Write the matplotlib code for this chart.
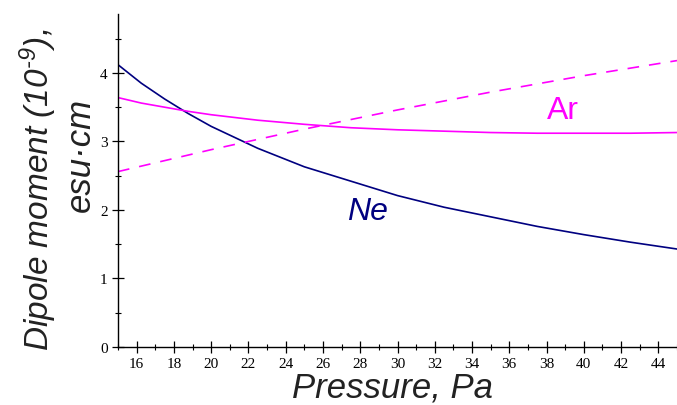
import matplotlib
matplotlib.use("Agg")
import matplotlib.pyplot as plt
from matplotlib.ticker import MultipleLocator

plt.rcParams['mathtext.fontset'] = 'custom'
plt.rcParams['mathtext.rm'] = 'Liberation Sans:italic'
plt.rcParams['mathtext.it'] = 'Liberation Sans:italic'
plt.rcParams['mathtext.default'] = 'it'

# Data
pressure = [15, 16.25, 17.5, 18.75, 20, 22.5, 25, 27.5, 30, 32.5, 35, 37.5, 40, 42.5, 45]
ne_moment = [4.12, 3.85, 3.62, 3.41, 3.22, 2.90, 2.63, 2.42, 2.21, 2.04, 1.90, 1.76, 1.64, 1.53, 1.43]
ar_moment = [3.64, 3.56, 3.50, 3.44, 3.39, 3.31, 3.25, 3.20, 3.17, 3.15, 3.13, 3.12, 3.12, 3.12, 3.13]
ar_dashed = [2.56, 2.64, 2.72, 2.80, 2.88, 3.03, 3.18, 3.32, 3.46, 3.59, 3.72, 3.84, 3.96, 4.07, 4.18]

xticks = list(range(16, 45, 2))
yticks = [0, 1, 2, 3, 4]

NAVY = '#000080'
MAG = '#ff00ff'

fig = plt.figure(figsize=(6.77, 4.06), dpi=100)
ax = fig.add_axes([118/677, 1-348/406, 1-118/677, (348-15)/406])

ax.plot(pressure, ne_moment, color=NAVY, lw=1.2)
ax.plot(pressure, ar_moment, color=MAG, lw=1.2)
ax.plot(pressure, ar_dashed, color=MAG, lw=1.2, dashes=(7, 6))

ax.set_xlim(15, 45)
ax.set_ylim(0, 4.86)
ax.set_xticks(xticks)
ax.set_yticks(yticks)
ax.xaxis.set_minor_locator(MultipleLocator(1))
ax.yaxis.set_minor_locator(MultipleLocator(0.5))
for s in ['top', 'right']:
    ax.spines[s].set_visible(False)
for s in ['left', 'bottom']:
    ax.spines[s].set_linewidth(1.0)
ax.tick_params(which='major', direction='inout', length=9, width=0.9, pad=3)
ax.tick_params(which='minor', direction='inout', length=5, width=0.8)
for lab in ax.get_xticklabels() + ax.get_yticklabels():
    lab.set_fontfamily('Liberation Serif')
    lab.set_fontsize(11)

ax.text(38.9, 3.46, 'Ar', color=MAG, fontsize=23, family='Liberation Sans', ha='center', va='center')
ax.text(28.4, 1.99, 'Ne', color=NAVY, fontsize=23, family='Liberation Sans', style='italic',
        ha='center', va='center')

fig.text(393/677, 1-388/406, 'Pressure, Pa', fontsize=25, family='Liberation Sans',
         style='italic', ha='center', va='center', color='#222222')
fig.text(38/677, 1-190/406, r'Dipole moment (10$^{\text{-9}}$),', fontsize=24, family='Liberation Sans',
         style='italic', rotation=90, ha='center', va='center', color='#222222')
fig.text(80/677, 1-155/406, 'esu·cm', fontsize=25, family='Liberation Sans',
         style='italic', rotation=90, ha='center', va='center', color='#222222')

fig.savefig('out.png', dpi=100)
